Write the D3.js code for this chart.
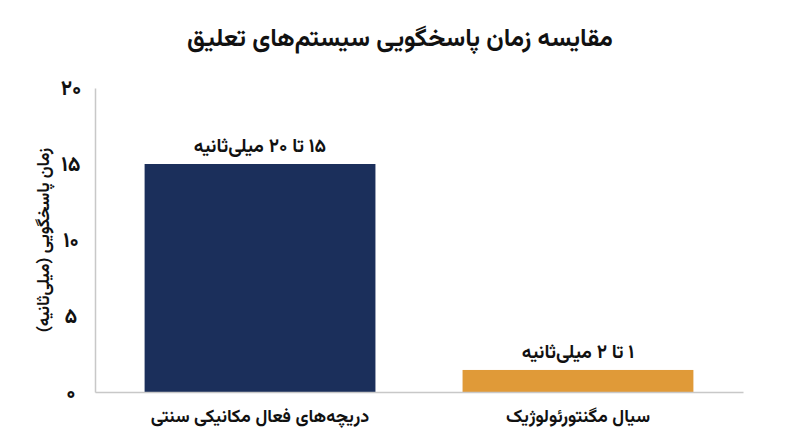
<!DOCTYPE html>
<html lang="fa">
<head>
<meta charset="utf-8">
<script src="https://cdn.jsdelivr.net/npm/d3@7"></script>
<style>
  body { margin: 0; background: #fff; }
  text { font-family: Vazirmatn, "DejaVu Sans", sans-serif; font-weight: bold; fill: #111; }
</style>
</head>
<body>
<div id="chart"></div>
<script>
var svgWidth = 800;
var svgHeight = 447;

var margin = { top: 88, right: 57, bottom: 55, left: 95 };
var width = svgWidth - margin.left - margin.right;
var height = svgHeight - margin.top - margin.bottom;

// data
var categories = ["دریچه‌های فعال مکانیکی سنتی", "سیال مگنتورئولوژیک"];
var values = [15, 1.45];
var valueLabels = ["۱۵ تا ۲۰ میلی‌ثانیه", "۱ تا ۲ میلی‌ثانیه"];
var barColors = ["#1b2f5b", "#e09a38"];
var yTicks = [0, 5, 10, 15, 20];

var chartTitle = "مقایسه زمان پاسخگویی سیستم‌های تعلیق";
var yTitle = "زمان پاسخگویی (میلی‌ثانیه)";

// persian digits
function faNum(n) {
  return String(n).replace(/\d/g, d => "۰۱۲۳۴۵۶۷۸۹"[d]);
}

var svg = d3.select("#chart")
  .append("svg")
  .attr("width", svgWidth)
  .attr("height", svgHeight);

var chartGroup = svg.append("g")
  .attr("transform", `translate(${margin.left}, ${margin.top})`);

var xScale = d3.scaleBand()
  .domain(categories)
  .range([0, width])
  .paddingInner(0.274)
  .paddingOuter(0.156);

var yScale = d3.scaleLinear()
  .domain([0, 20])
  .range([height, 0]);

// bars
chartGroup.selectAll("rect.bar")
  .data(categories)
  .enter()
  .append("rect")
  .attr("class", "bar")
  .attr("x", d => xScale(d))
  .attr("width", xScale.bandwidth())
  .attr("y", (d, i) => yScale(values[i]))
  .attr("height", (d, i) => height - yScale(values[i]))
  .attr("fill", (d, i) => barColors[i]);

// value labels
chartGroup.selectAll("text.val")
  .data(categories)
  .enter()
  .append("text")
  .attr("class", "val")
  .attr("x", d => xScale(d) + xScale.bandwidth() / 2)
  .attr("y", (d, i) => yScale(values[i]) - 12)
  .attr("text-anchor", "middle")
  .attr("direction", "rtl")
  .style("font-size", "19px")
  .text((d, i) => valueLabels[i]);

// axes
var xAxis = chartGroup.append("g")
  .attr("transform", `translate(0, ${height})`)
  .call(d3.axisBottom(xScale).tickSize(0).tickPadding(14).tickSizeOuter(0));

var yAxis = chartGroup.append("g")
  .call(d3.axisLeft(yScale).tickValues(yTicks).tickFormat(faNum).tickSize(0).tickPadding(16));

[xAxis, yAxis].forEach(function(ax) {
  ax.select(".domain").attr("stroke", "#c8c8c8").attr("stroke-width", 1.5);
  ax.selectAll("text")
    .style("font-family", 'Vazirmatn, "DejaVu Sans", sans-serif')
    .style("font-weight", "bold")
    .attr("fill", "#111");
});
xAxis.selectAll("text").style("font-size", "18px").attr("direction", "rtl").attr("dy", "0.9em");
yAxis.selectAll("text").style("font-size", "21px").attr("text-anchor", "middle").attr("x", -24);

// y title
chartGroup.append("text")
  .attr("transform", "rotate(-90)")
  .attr("x", -height / 2)
  .attr("y", -margin.left + 49)
  .attr("text-anchor", "middle")
  .attr("direction", "rtl")
  .style("font-size", "17px")
  .text(yTitle);

// title
svg.append("text")
  .attr("x", svgWidth / 2)
  .attr("y", 46)
  .attr("text-anchor", "middle")
  .attr("direction", "rtl")
  .style("font-size", "25px")
  .text(chartTitle);
</script>
</body>
</html>
